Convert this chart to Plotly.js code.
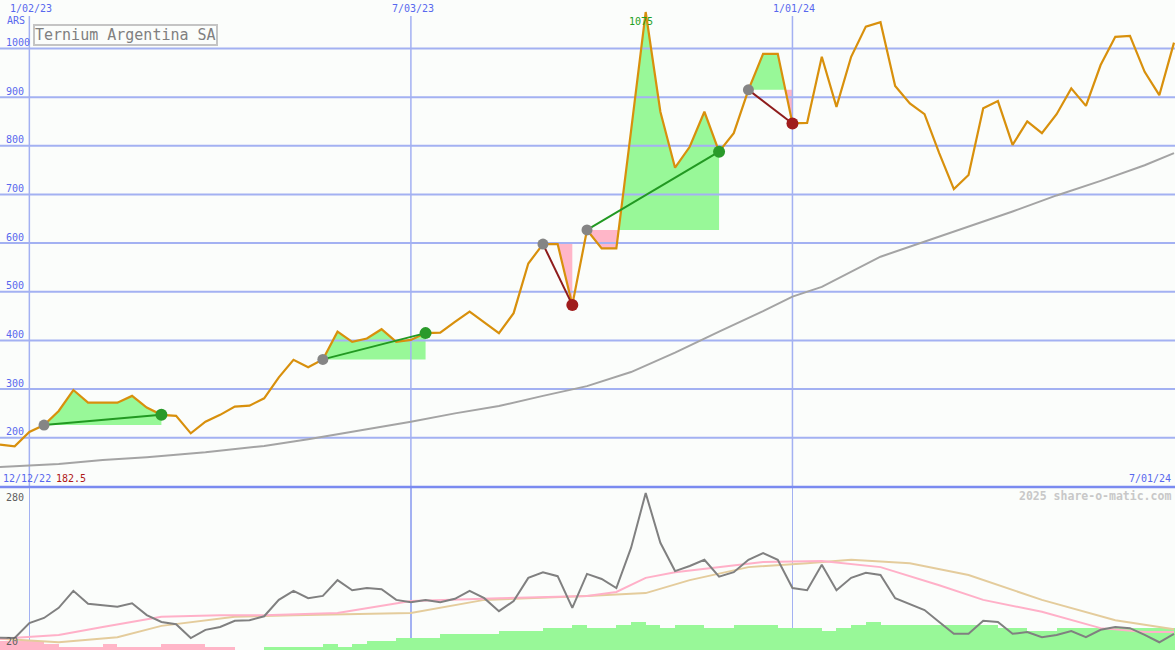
<!DOCTYPE html>
<html><head><meta charset="utf-8">
<script src="https://cdn.plot.ly/plotly-3.0.1.min.js"></script>
<style>html,body{margin:0;padding:0;background:#fbfdfb;}#chart{width:1175px;height:650px;}</style>
</head><body><div id="chart"></div>
<script>
// ---------- DATA ----------
const dates = ['2022-12-19','2022-12-26','2023-01-02','2023-01-09','2023-01-16','2023-01-23','2023-01-30',
'2023-02-06','2023-02-13','2023-02-20','2023-02-27','2023-03-06','2023-03-13','2023-03-20','2023-03-27',
'2023-04-03','2023-04-10','2023-04-17','2023-04-24','2023-05-01','2023-05-08','2023-05-15','2023-05-22','2023-05-29',
'2023-06-05','2023-06-12','2023-06-19','2023-06-26','2023-07-03','2023-07-10','2023-07-17','2023-07-24','2023-07-31',
'2023-08-07','2023-08-14','2023-08-21','2023-08-28','2023-09-04','2023-09-11','2023-09-18','2023-09-25',
'2023-10-02','2023-10-09','2023-10-16','2023-10-23','2023-10-30','2023-11-06','2023-11-13','2023-11-20','2023-11-27',
'2023-12-04','2023-12-11','2023-12-18','2023-12-25','2024-01-01','2024-01-08','2024-01-15','2024-01-22','2024-01-29',
'2024-02-05','2024-02-12','2024-02-19','2024-02-26','2024-03-04','2024-03-11','2024-03-18','2024-03-25',
'2024-04-01','2024-04-08','2024-04-15','2024-04-22','2024-04-29','2024-05-06','2024-05-13','2024-05-20','2024-05-27',
'2024-06-03','2024-06-10','2024-06-17','2024-06-24','2024-07-01'];

const price = [186,182.5,212,226,255,298,272,272,272,286,262,247,245,209,233,247,264,266,281,324,
360,345,361,418,397,404,423,397,401,415,416,438,459,437,415,456,558,598,598,473,
627,589,589,830,1075,870,755,798,870,788,826,915,989,989,846,847,983,880,983,1045,
1054,923,887,865,785,711,740,877,892,802,850,826,865,918,882,966,1024,1026,952,904,1012];

// long moving average (grey), read at these week indices
const longMaIdx = [0,4,7,10,14,18,21,24,28,31,34,37,40,43,46,49,52,54,56,60,63,66,69,72,75,78,80];
const longMaVal = [140,146,154,160,170,183,197,212,233,250,265,286,306,335,375,418,460,490,510,572,603,634,665,698,728,760,785];

// lower panel: grey indicator line (weekly)
const volume = [24,23.5,50,59,77,107,84,82,79,85,64,52,48,23.5,38,43,54,55,62,91,
107,94,98,126,108,112,110,91,87,91,87,93,107,94,71,89,130,140,133,77,
137,128,112,183,280,192,142,151,162,132,140,162,174,162,112,108,153,108,130,139,
135,94,84,73,52,31,31,54,52,31,34,25,29,36,25,38,43,41,29,16,31];

// lower panel: pink average, read at week indices
const pinkAvgIdx = [0,4,7,11,15,18,23,28,34,40,42,44,46,49,52,56,60,64,67,71,75,78,80];
const pinkAvgVal = [22,29,43,61,64,64,68,89,94,98,105,130,140,149,158,160,149,117,91,70,41,34,34];

// lower panel: tan average, read at week indices
const tanAvgIdx = [0,4,8,11,16,20,28,33,40,44,47,51,55,58,62,66,71,76,80];
const tanAvgVal = [22,16,25,45,61,64,68,91,98,103,126,149,156,162,156,135,91,55,39];

// lower panel: weekly step bars (negative = pink, positive = green)
const barLevels = [-3,-3,-3,-2,-1,-1,-1,-2,-1,-1,-1,-2,-2,-2,-1,-1,0,0,1,1,
1,1,2,1,2,3,3,4,4,4,5,5,5,5,6,6,6,7,7,8,
7,7,8,9,8,7,8,8,7,7,8,8,8,7,7,7,6,7,8,9,
8,8,8,8,8,8,8,8,7,7,6,6,7,7,7,7,7,7,7,7,7];

// trades: start / end week indices
const tradeStart = [3,22,37,40,51];
const tradeEnd   = [11,29,39,49,54];

const priceTicks = [200,300,400,500,600,700,800,900,1000];
const dateTicks = ['2023-01-02','2023-07-03','2024-01-01'];
const dateTickLabels = ['1/02/23','7/03/23','1/01/24'];
const lowerTicks = [280,20];
const currency = 'ARS';
const titleText = 'Ternium Argentina SA';
const firstDateLabel = '12/12/22';
const lastDateLabel = '7/01/24';
const credit = '2025 share-o-matic.com';

// ---------- STYLE ----------
const W = 1175, H = 650, SPLIT = 487;
const FONT = 'DejaVu Sans Mono, Liberation Mono, monospace';
const BLUE_TXT = '#5868ee', GRID = '#a3b1f2', BG = '#fbfdfb';
const ORANGE = '#d8900c', GREEN_FILL = '#98f898', PINK_FILL = '#ffb6c8';
const DGREEN = '#2a9a2a', DRED = '#a01c1c';
const topRange = [98.7, 1099.7];
const xRange = ['2022-12-19 00:00:00', '2024-07-01 11:30:00'];

function ms(d){ const p=d.split(/[- :]/).map(Number); return Date.UTC(p[0],p[1]-1,p[2],p[3]||0,p[4]||0,p[5]||0); }
function fmt(t){ const d=new Date(t); const z=n=>String(n).padStart(2,'0');
  return d.getUTCFullYear()+'-'+z(d.getUTCMonth()+1)+'-'+z(d.getUTCDate())+' '+z(d.getUTCHours())+':'+z(d.getUTCMinutes())+':'+z(d.getUTCSeconds()); }

const traces = [];

// trade fill polygons
function region(s, e, base, up){
  const xs=[], ys=[];
  for(let k=s;k<=e;k++){
    const v = up ? Math.max(price[k],base) : Math.min(price[k],base);
    xs.push(dates[k]); ys.push(v);
    if(k<e && (price[k]-base)*(price[k+1]-base)<0){
      const t=(base-price[k])/(price[k+1]-price[k]);
      xs.push(fmt(ms(dates[k])+t*(ms(dates[k+1])-ms(dates[k])))); ys.push(base);
    }
  }
  xs.push(dates[e], dates[s]); ys.push(base, base);
  return {x:xs,y:ys,type:'scatter',mode:'lines',fill:'toself',fillcolor:up?GREEN_FILL:PINK_FILL,
    line:{width:0,color:up?GREEN_FILL:PINK_FILL},xaxis:'x',yaxis:'y',hoverinfo:'skip'};
}
tradeStart.forEach((s,i)=>{
  const e=tradeEnd[i], base=price[s];
  traces.push(region(s,e,base,true));
  traces.push(region(s,e,base,false));
});

// gridlines above fills
priceTicks.forEach(t=>traces.push({x:xRange,y:[t,t],type:'scatter',mode:'lines',
  line:{color:GRID,width:2},xaxis:'x',yaxis:'y',hoverinfo:'skip'}));
dateTicks.forEach(d=>traces.push({x:[d,d],y:[topRange[0],1066.8],type:'scatter',mode:'lines',
  line:{color:GRID,width:1.5},xaxis:'x',yaxis:'y',hoverinfo:'skip'}));

// long MA
traces.push({x:longMaIdx.map(i=>dates[i]),y:longMaVal,type:'scatter',mode:'lines',
  line:{color:'#a4a4a4',width:2},xaxis:'x',yaxis:'y',hoverinfo:'skip'});
// price
traces.push({x:dates,y:price,type:'scatter',mode:'lines',line:{color:ORANGE,width:2.2},xaxis:'x',yaxis:'y',hoverinfo:'skip'});
// trade lines & dots
tradeStart.forEach((s,i)=>{
  const e=tradeEnd[i], gain=price[e]>=price[s];
  traces.push({x:[dates[s],dates[e]],y:[price[s],price[e]],type:'scatter',mode:'lines',
    line:{color:gain?'#229922':'#8e1c1c',width:2},xaxis:'x',yaxis:'y',hoverinfo:'skip'});
  traces.push({x:[dates[s]],y:[price[s]],type:'scatter',mode:'markers',marker:{color:'#858585',size:11},xaxis:'x',yaxis:'y',hoverinfo:'skip'});
  traces.push({x:[dates[e]],y:[price[e]],type:'scatter',mode:'markers',marker:{color:gain?DGREEN:DRED,size:12},xaxis:'x',yaxis:'y',hoverinfo:'skip'});
});

// lower panel bars (base axis y2)
traces.push({x:dates,y:barLevels.map(Math.abs),type:'bar',offset:0,width:604800000,
  marker:{color:barLevels.map(v=>v<0?PINK_FILL:GREEN_FILL),line:{width:0}},xaxis:'x2',yaxis:'y2',hoverinfo:'skip'});
// lower panel lines (overlay y3)
traces.push({x:tanAvgIdx.map(i=>dates[i]),y:tanAvgVal,type:'scatter',mode:'lines',line:{color:'#e4cc9c',width:2},xaxis:'x2',yaxis:'y3',hoverinfo:'skip'});
traces.push({x:pinkAvgIdx.map(i=>dates[i]),y:pinkAvgVal,type:'scatter',mode:'lines',line:{color:'#ffb0c8',width:2},xaxis:'x2',yaxis:'y3',hoverinfo:'skip'});
traces.push({x:dates,y:volume,type:'scatter',mode:'lines',line:{color:'#808080',width:2},xaxis:'x2',yaxis:'y3',hoverinfo:'skip'});

const split = 1 - SPLIT/H;
const px = x => x/W, py = y => 1 - y/H;
const ann = [];
dateTicks.forEach((d,i)=>ann.push({x:d,xref:'x',y:py(8),yref:'paper',text:dateTickLabels[i],showarrow:false,
  xanchor:'center',yanchor:'middle',xshift:2,font:{family:FONT,size:10,color:BLUE_TXT}}));
ann.push({x:px(5),xref:'paper',y:py(21),yref:'paper',text:currency,showarrow:false,xanchor:'left',yanchor:'middle',
  font:{family:FONT,size:10,color:BLUE_TXT}});
priceTicks.forEach(t=>ann.push({x:px(4),xref:'paper',y:t,yref:'y',text:String(t),showarrow:false,xanchor:'left',yanchor:'middle',
  yshift:6,font:{family:FONT,size:10,color:BLUE_TXT}}));
ann.push({x:px(33),xref:'paper',y:py(24),yref:'paper',text:titleText,showarrow:false,xanchor:'left',yanchor:'top',
  bordercolor:'#c4c4c4',borderwidth:2,borderpad:0,bgcolor:BG,font:{family:FONT,size:15,color:'#808080'}});
const maxI = price.indexOf(Math.max(...price));
ann.push({x:dates[maxI],xref:'x',y:price[maxI],yref:'y',text:String(price[maxI]),showarrow:false,xanchor:'center',yanchor:'middle',
  xshift:-5,yshift:-9,font:{family:FONT,size:10,color:'#22a022'}});
ann.push({x:px(1),xref:'paper',y:py(478),yref:'paper',text:firstDateLabel,showarrow:false,xanchor:'left',yanchor:'middle',
  font:{family:FONT,size:10,color:BLUE_TXT}});
ann.push({x:px(54),xref:'paper',y:py(478),yref:'paper',text:String(Math.min(...price)),showarrow:false,xanchor:'left',yanchor:'middle',
  font:{family:FONT,size:10,color:'#b01818'}});
ann.push({x:px(1173),xref:'paper',y:py(478),yref:'paper',text:lastDateLabel,showarrow:false,xanchor:'right',yanchor:'middle',
  font:{family:FONT,size:10,color:BLUE_TXT}});
ann.push({x:px(1173),xref:'paper',y:py(496),yref:'paper',text:'<b>'+credit+'</b>',showarrow:false,xanchor:'right',yanchor:'middle',
  font:{family:FONT,size:11.5,color:'#c8c8c8'}});
lowerTicks.forEach((t,i)=>ann.push({x:px(4),xref:'paper',y:t,yref:'y3',text:String(t),showarrow:false,xanchor:'left',yanchor:'middle',
  yshift:i===0?-4:-1,font:{family:FONT,size:10,color:'#606060'}}));

const layout = {
  width:W,height:H,margin:{l:0,r:0,t:0,b:0},paper_bgcolor:BG,plot_bgcolor:BG,showlegend:false,hovermode:false,
  bargap:0,
  xaxis:{type:'date',range:xRange,showgrid:false,showticklabels:false,zeroline:false,showline:false,ticks:'',anchor:'y'},
  yaxis:{range:topRange,domain:[split,1],showgrid:false,showticklabels:false,zeroline:false,showline:false,ticks:'',anchor:'x'},
  xaxis2:{type:'date',range:xRange,tickvals:dateTicks,showgrid:true,gridcolor:GRID,gridwidth:1.5,showticklabels:false,
    zeroline:false,showline:false,ticks:'',anchor:'y2'},
  yaxis2:{range:[0,52.5],domain:[0,split],showgrid:false,showticklabels:false,zeroline:false,showline:false,ticks:'',anchor:'x2'},
  yaxis3:{range:[2.3,290.8],overlaying:'y2',anchor:'x2',showgrid:false,showticklabels:false,zeroline:false,showline:false,ticks:''},
  shapes:[{type:'line',xref:'paper',yref:'paper',x0:0,x1:1,y0:split,y1:split,line:{color:'#7a8af0',width:2.5},layer:'above'}],
  annotations:ann
};
Plotly.newPlot('chart',traces,layout,{staticPlot:true,displayModeBar:false});
</script></body></html>
